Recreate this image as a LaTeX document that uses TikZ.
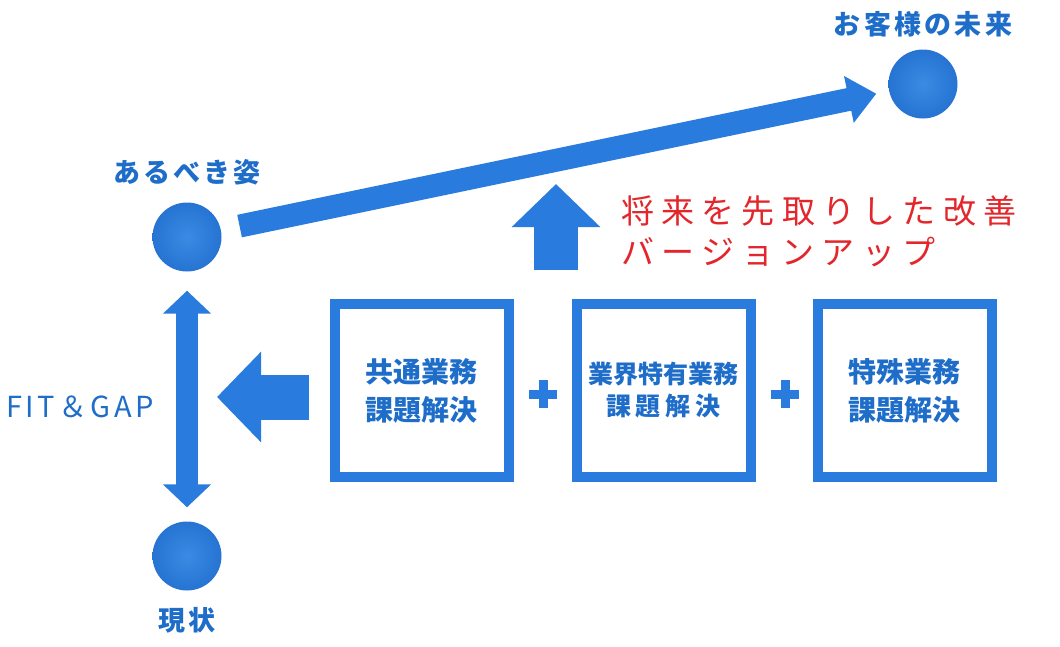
\documentclass[tikz,border=0pt]{standalone}
\usepackage{fontspec}
\setmainfont{Noto Sans CJK JP}
\newfontfamily\jplabel{Noto Sans CJK JP}[LetterSpace=12]
\newfontfamily\jpwide{Noto Sans CJK JP}[LetterSpace=20]
\newfontfamily\jpred{Noto Sans CJK JP}[LetterSpace=22]
\usetikzlibrary{arrows.meta,positioning}
\definecolor{arrowblue}{HTML}{2A7BDE}
\definecolor{textblue}{HTML}{1E6DC9}
\definecolor{ballin}{HTML}{3A8BE3}
\definecolor{ballout}{HTML}{1252A8}
\definecolor{notered}{HTML}{E3262B}
\pgfdeclareradialshading{ballshade}{\pgfpoint{0bp}{0bp}}{color(0bp)=(ballin); color(28bp)=(arrowblue!75!ballout); color(50bp)=(ballout)}
\begin{document}
\begin{tikzpicture}[x=1pt,y=-1pt,
  ball/.style={circle, minimum size=69pt, inner sep=0pt, shade, shading=ballshade},
  caption/.style={inner sep=0pt, text=textblue, font=\jplabel\bfseries\fontsize{27}{30}\selectfont},
  taskbox/.style={draw=arrowblue, line width=10pt, minimum width=174pt, minimum height=173pt, text=textblue, align=center},
  fatarrow/.style={arrowblue, line width=45pt, -{Triangle[length=44pt,width=88pt]}},
  plusbar/.style={arrowblue, line width=9pt}]
\useasboundingbox (0,0) rectangle (1060,646);

% points on the road
\node[ball] (ideal) at (187,237){};
\node[ball] (now) at (187,556){};
\node[ball] (future) at (923,84){};
\node[caption, above=17pt of ideal] (idealtext) {あるべき姿};
\node[caption, below=16pt of now] (nowtext) {現状};
\node[caption, above=12pt of future] (futuretext) {お客様の未来};
\node[inner sep=0pt, text=textblue, font=\jplabel\fontsize{29}{30}\selectfont] (fitgap) at (80,407) {FIT＆GAP};

\draw[arrowblue, line width=22pt, {Triangle[length=23pt,width=47pt]}-{Triangle[length=23pt,width=47pt]}] ([yshift=-19pt]ideal.south) -- ([yshift=14pt]now.north);
\draw[arrowblue, line width=23pt, -{Triangle[length=28pt,width=46pt]}, shorten <=19pt, shorten >=13pt] (ideal) -- (future);

% tasks
\node[taskbox, font=\bfseries\fontsize{28}{38}\selectfont] (common) at (421.5,390.5) {共通業務\\課題解決};
\node[taskbox, right=58pt of common, font=\bfseries\fontsize{25}{32}\selectfont] (industry) {業界特有業務\\{\jpwide 課題解決}};
\node[taskbox, right=57pt of industry, font=\bfseries\fontsize{28}{38}\selectfont] (special) {特殊業務\\課題解決};

\coordinate (plusA) at (543,394);
\coordinate (plusB) at (785,394);
\draw[plusbar] ([xshift=-14pt]plusA) -- ([xshift=14pt]plusA);
\draw[plusbar] ([yshift=-14pt]plusA) -- ([yshift=14pt]plusA);
\draw[plusbar] ([xshift=-14pt]plusB) -- ([xshift=14pt]plusB);
\draw[plusbar] ([yshift=-14pt]plusB) -- ([yshift=14pt]plusB);

\coordinate (gaptip) at (217,397);
\draw[fatarrow] ([xshift=-21pt,yshift=-6.5pt]common.west) -- (gaptip);

\coordinate (upfoot) at (556,270);
\coordinate (uphead) at (556,184);
\draw[fatarrow, line width=44pt, -{Triangle[length=43pt,width=86pt]}] (upfoot) -- (uphead);
\node[anchor=west, inner sep=0pt, align=left, text=notered, font=\jpred\fontsize{33}{41}\selectfont] (upgrade) at (621,231) {将来を先取りした改善\\バージョンアップ};

\end{tikzpicture}
\end{document}
